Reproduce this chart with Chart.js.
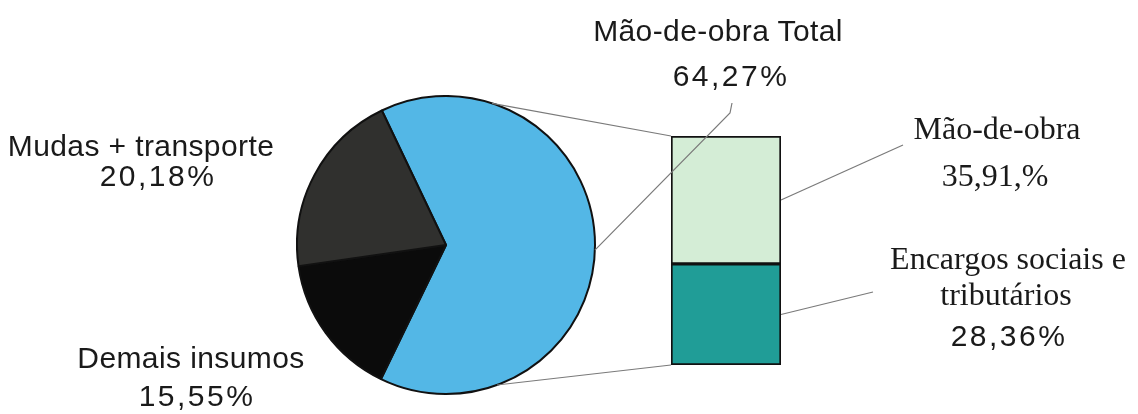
<!DOCTYPE html>
<html lang="pt">
<head>
    <meta charset="UTF-8">
    <title>Composição de custos</title>
    <script src="https://cdn.jsdelivr.net/npm/chart.js"></script>
    <style>
        html, body { margin: 0; padding: 0; background: #fff; }
        #wrap { position: relative; width: 1138px; height: 414px; overflow: hidden; }
        #pieBox { position: absolute; left: 296px; top: 95px; width: 300px; height: 300px; }
        #barBox { position: absolute; left: 670px; top: 135px; width: 112px; height: 231px; }
        #leaders { position: absolute; left: 0; top: 0; pointer-events: none; }
        .lbl { position: absolute; transform: translate(-50%, -50%); white-space: nowrap; line-height: 1; color: #1a1a1a; }
        .sans { font-family: "Liberation Sans", Arial, sans-serif; font-size: 30px; letter-spacing: 0.4px; }
        .num { letter-spacing: 2.5px; }
        .serif { font-family: "Liberation Serif", "Times New Roman", serif; font-size: 32px; }
    </style>
</head>
<body>
<div id="wrap">
    <div id="pieBox"><canvas id="pieChart"></canvas></div>
    <div id="barBox"><canvas id="barChart"></canvas></div>
    <canvas id="leaders" width="1138" height="414"></canvas>

    <!-- Labels -->
    <div class="lbl sans" style="left:141px; top:146px;">Mudas + transporte</div>
    <div class="lbl sans num" style="left:158px; top:176px;">20,18%</div>
    <div class="lbl sans" style="left:191px; top:358px;">Demais insumos</div>
    <div class="lbl sans num" style="left:197px; top:396px;">15,55%</div>
    <div class="lbl sans" style="left:718px; top:31px;">Mão-de-obra Total</div>
    <div class="lbl sans num" style="left:731px; top:76px;">64,27%</div>
    <div class="lbl serif" style="left:997px; top:128px;">Mão-de-obra</div>
    <div class="lbl serif" style="left:995px; top:175px;">35,91,%</div>
    <div class="lbl serif" style="left:1008px; top:258px;">Encargos sociais e</div>
    <div class="lbl serif" style="left:1006px; top:294px;">tributários</div>
    <div class="lbl sans num" style="left:1009px; top:336px;">28,36%</div>
</div>

<script>
    // Pie slices (clockwise from the split slice)
    const pieLabels = ['Mão-de-obra Total', 'Demais insumos', 'Mudas + transporte'];
    const pieValues = [64.27, 15.55, 20.18];
    const pieColors = ['#53B7E6', '#0B0B0B', '#30302E'];

    // Breakdown of "Mão-de-obra Total" (bottom to top)
    const barLabels = ['Encargos sociais e tributários', 'Mão-de-obra'];
    const barValues = [28.36, 35.91];
    const barColors = ['#209D97', '#D4EDD6'];

    const pieChart = new Chart(document.getElementById('pieChart'), {
        type: 'pie',
        data: {
            labels: pieLabels,
            datasets: [{
                data: pieValues,
                backgroundColor: pieColors,
                borderColor: '#111',
                borderWidth: 2
            }]
        },
        options: {
            responsive: true,
            maintainAspectRatio: false,
            animation: false,
            rotation: -25.5,
            layout: { padding: 0 },
            plugins: { legend: { display: false }, tooltip: { enabled: false } }
        }
    });

    const barChart = new Chart(document.getElementById('barChart'), {
        type: 'bar',
        data: {
            labels: [''],
            datasets: barValues.map((v, i) => ({
                label: barLabels[i],
                data: [v],
                backgroundColor: barColors[i],
                borderColor: '#111',
                borderWidth: 2,
                borderSkipped: false,
                barPercentage: 1,
                categoryPercentage: 1
            }))
        },
        options: {
            responsive: true,
            maintainAspectRatio: false,
            animation: false,
            layout: { padding: 1 },
            scales: {
                x: { stacked: true, display: false },
                y: { stacked: true, display: false, min: 0, max: barValues.reduce((a, b) => a + b, 0) }
            },
            plugins: { legend: { display: false }, tooltip: { enabled: false } }
        }
    });

    // Connector / leader lines drawn on top of both charts
    function drawLeaders() {
        const ctx = document.getElementById('leaders').getContext('2d');
        const pieBox = document.getElementById('pieBox');
        const barBox = document.getElementById('barBox');

        const arc = pieChart.getDatasetMeta(0).data[0];
        const cx = pieBox.offsetLeft + arc.x;
        const cy = pieBox.offsetTop + arc.y;
        const r = arc.outerRadius;
        const onPie = deg => {
            const a = deg * Math.PI / 180;
            return [cx + r * Math.sin(a), cy - r * Math.cos(a)];
        };

        const segBottom = barChart.getDatasetMeta(0).data[0];
        const segTop = barChart.getDatasetMeta(1).data[0];
        const bx0 = barBox.offsetLeft + segTop.x - segTop.width / 2;
        const bx1 = barBox.offsetLeft + segTop.x + segTop.width / 2;
        const yTop = barBox.offsetTop + segTop.y;
        const yMid = barBox.offsetTop + segTop.base;
        const yBot = barBox.offsetTop + segBottom.base;

        ctx.strokeStyle = '#7a7a7a';
        ctx.lineWidth = 1.2;
        const line = (p, q) => { ctx.beginPath(); ctx.moveTo(p[0], p[1]); ctx.lineTo(q[0], q[1]); ctx.stroke(); };

        line(onPie(18), [bx0, yTop]);
        line(onPie(160), [bx0, yBot]);
        // short hook under "64,27%" then down to the pie edge
        ctx.beginPath();
        ctx.moveTo(732, 103);
        ctx.lineTo(730, 113);
        ctx.lineTo(...onPie(92));
        ctx.stroke();
        line([bx1, (yTop + yMid) / 2], [903, 145]);
        line([bx1, (yMid + yBot) / 2], [873, 292]);
    }

    drawLeaders();
</script>
</body>
</html>
